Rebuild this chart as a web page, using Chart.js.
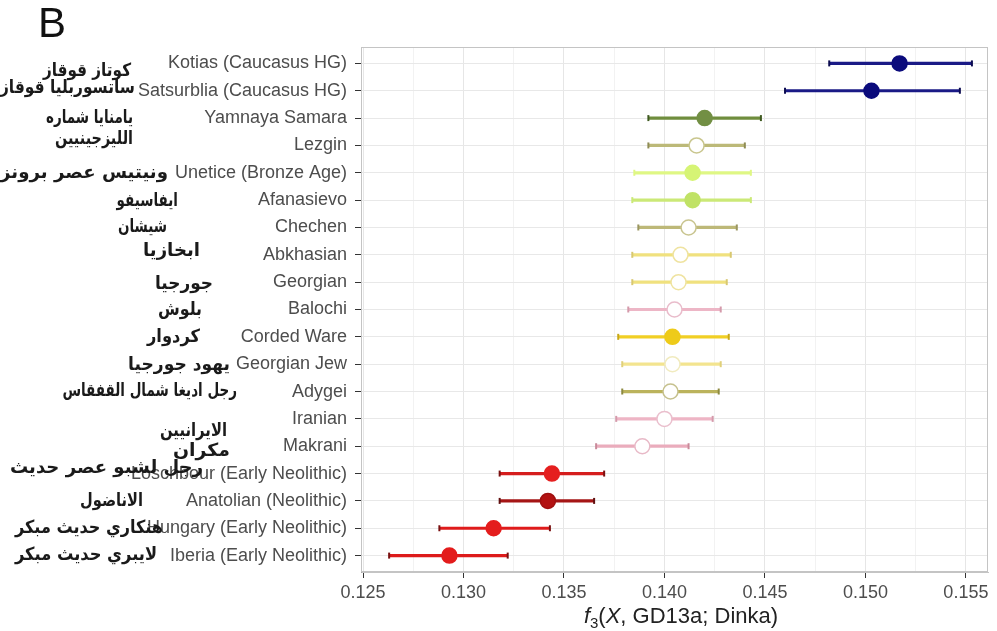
<!DOCTYPE html>
<html>
<head>
<meta charset="utf-8">
<script src="https://cdn.jsdelivr.net/npm/chart.js@4/dist/chart.umd.min.js"></script>
<style>
html,body{margin:0;padding:0;background:#fff;}
#wrap{position:relative;width:997px;height:631px;}
</style>
</head>
<body>
<div id="wrap"><canvas id="c" width="997" height="631"></canvas></div>
<script>
// ---- data ----
const categories = ['Kotias (Caucasus HG)', 'Satsurblia (Caucasus HG)', 'Yamnaya Samara', 'Lezgin',
  'Unetice (Bronze Age)', 'Afanasievo', 'Chechen', 'Abkhasian', 'Georgian', 'Balochi', 'Corded Ware',
  'Georgian Jew', 'Adygei', 'Iranian', 'Makrani', 'Loschbour (Early Neolithic)', 'Anatolian (Neolithic)',
  'Hungary (Early Neolithic)', 'Iberia (Early Neolithic)'];
const arabicLabels = ['كوتاز قوقاز', 'ساتسوربليا قوقاز', 'يامنايا شماره', 'الليزجينيين',
  'ونيتيس عصر برونز', 'ايفاسيفو', 'شيشان', 'ابخازيا', 'جورجيا', 'بلوش', 'كردوار',
  'يهود جورجيا', 'رجل اديغا شمال القفقاس', 'الايرانيين', 'مكران', 'رجل لشبو عصر حديث',
  'الاناضول', 'هنكاري حديث مبكر', 'لايبري حديث مبكر'];
const f3Values = [0.1517, 0.1503, 0.1420, 0.1416, 0.1414, 0.1414, 0.1412, 0.1408, 0.1407, 0.1405,
  0.1404, 0.1404, 0.1403, 0.1400, 0.1389, 0.1344, 0.1342, 0.1315, 0.1293];
const lowerCI = [0.1482, 0.1460, 0.1392, 0.1392, 0.1385, 0.1384, 0.1387, 0.1384, 0.1384, 0.1382,
  0.1377, 0.1379, 0.1379, 0.1376, 0.1366, 0.1318, 0.1318, 0.1288, 0.1263];
const upperCI = [0.1553, 0.1547, 0.1448, 0.1440, 0.1443, 0.1443, 0.1436, 0.1433, 0.1431, 0.1428,
  0.1432, 0.1428, 0.1427, 0.1424, 0.1412, 0.1370, 0.1365, 0.1343, 0.1322];
const xTickValues = [0.125, 0.1275, 0.130, 0.1325, 0.135, 0.1375, 0.140, 0.1425, 0.145, 0.1475, 0.150, 0.1525, 0.155];

// ---- styles ----
const barColor = ['#1a1a86','#1a1a86','#6f8d3d','#bcb978','#dff784','#cbe977','#bdb878','#f0e17e','#f0e17e','#edb6c6',
  '#f1cf25','#f3e48f','#bbb35c','#eeb5c5','#eaacbc','#d51d1d','#a51515','#df1b1b','#dd1b1b'];
const capColor = ['#0b0b50','#0b0b50','#3f5a20','#8f8c55','#dff784','#cbe977','#9a9660','#d8c870','#d8c870','#d49aab',
  '#c8a818','#e0d07a','#8d8a40','#d49aab','#c98a9a','#7a1010','#601010','#7a1010','#7a1010'];
const pointFill = ['#0b0b7c','#0b0b7c','#728f44','#ffffff','#d6f475','#c0e266','#ffffff','#ffffff','#ffffff','#ffffff',
  '#eecb1a','#ffffff','#ffffff','#ffffff','#ffffff','#e51f1f','#b31212','#e41d1d','#e31c1c'];
const pointEdge = ['#0b0b7c','#0b0b7c','#728f44','#c9c68e','#d6f475','#c0e266','#c9c590','#efe3a0','#efe3a0','#e9bccb',
  '#eecb1a','#f1ebbf','#c6c18e','#eabfcd','#e8b9c7','#e51f1f','#a01010','#e41d1d','#e31c1c'];
// Arabic overlay placement: left/right edges in x and vertical offset from its row
const arabicLeft = [43, 0, 47, 55, 0, 128, 128, 143, 155, 158, 147, 128, 83, 160, 173, 10, 80, 15, 15];
const arabicRight = [131, 135, 133, 133, 168, 178, 167, 200, 213, 202, 200, 230, 237, 227, 230, 203, 143, 163, 157];
const arabicDy = [8, -2, 0, -6, 1, 1, 0, -3, 2, 1, 0, 1, 0, 12, 5, -5, 0, 0, 0];

const isMajor = v => Math.abs(Math.round(v * 10000) % 50) === 0;

const datasets = [{
  label: 'f3',
  order: 0,
  data: f3Values.map((v, i) => ({x: v, y: i + 1})),
  pointRadius: 7.5,
  pointHoverRadius: 7.5,
  pointBorderWidth: 1.5,
  pointBackgroundColor: pointFill,
  pointBorderColor: pointEdge,
  showLine: false
}];
categories.forEach((c, i) => {
  datasets.push({
    label: c,
    order: 1,
    data: [{x: lowerCI[i], y: i + 1}, {x: upperCI[i], y: i + 1}],
    showLine: true,
    borderColor: barColor[i],
    borderWidth: 3.2,
    pointStyle: 'line',
    pointRotation: 90,
    pointRadius: 3,
    pointHoverRadius: 3,
    pointBorderWidth: 2,
    pointBorderColor: capColor[i],
    pointBackgroundColor: capColor[i]
  });
});

const overlay = {
  id: 'overlay',
  afterDraw(chart) {
    const ctx = chart.ctx, a = chart.chartArea, ys = chart.scales.y;
    ctx.save();
    ctx.strokeStyle = '#c4c4c4';
    ctx.lineWidth = 1;
    ctx.strokeRect(a.left + 0.5, a.top + 0.5, a.right - a.left - 1, a.bottom - a.top - 1);
    // panel letter
    ctx.fillStyle = '#111';
    ctx.font = '42px "Liberation Sans", Arial, sans-serif';
    ctx.textAlign = 'left';
    ctx.textBaseline = 'alphabetic';
    ctx.fillText('B', 38, 37);
    // Arabic labels, fitted (within limits) to their span
    ctx.fillStyle = '#1a1a1a';
    ctx.font = 'bold 18px "DejaVu Sans", sans-serif';
    ctx.textAlign = 'right';
    ctx.textBaseline = 'middle';
    ctx.direction = 'rtl';
    arabicLabels.forEach((t, i) => {
      const y = ys.getPixelForValue(i + 1) + arabicDy[i];
      const w = ctx.measureText(t).width;
      const target = arabicRight[i] - arabicLeft[i];
      const k = Math.max(0.75, Math.min(1.15, target / w));
      ctx.save();
      ctx.translate(arabicRight[i], y);
      ctx.scale(k, 1);
      ctx.fillText(t, 0, 0);
      ctx.restore();
    });
    ctx.direction = 'ltr';
    // x axis title: f3(X, GD13a; Dinka)
    const parts = [
      {t: 'f', f: 'italic 22px "Liberation Sans", Arial, sans-serif', dy: 0},
      {t: '3', f: '15px "Liberation Sans", Arial, sans-serif', dy: 5},
      {t: '(', f: '22px "Liberation Sans", Arial, sans-serif', dy: 0},
      {t: 'X', f: 'italic 22px "Liberation Sans", Arial, sans-serif', dy: 0},
      {t: ', GD13a; Dinka)', f: '22px "Liberation Sans", Arial, sans-serif', dy: 0}
    ];
    let total = 0;
    parts.forEach(p => { ctx.font = p.f; p.w = ctx.measureText(p.t).width; total += p.w; });
    let x = 681 - total / 2;
    const base = 623;
    ctx.fillStyle = '#222';
    ctx.textAlign = 'left';
    ctx.textBaseline = 'alphabetic';
    parts.forEach(p => { ctx.font = p.f; ctx.fillText(p.t, x, base + p.dy); x += p.w; });
    ctx.restore();
  }
};

new Chart(document.getElementById('c'), {
  type: 'scatter',
  data: {datasets},
  options: {
    responsive: false,
    animation: false,
    events: [],
    layout: {padding: {top: 47, right: 7, left: 0, bottom: 0}},
    plugins: {legend: {display: false}, tooltip: {enabled: false}},
    scales: {
      x: {
        type: 'linear',
        min: 0.1249,
        max: 0.1561,
        afterBuildTicks: s => { s.ticks = xTickValues.map(v => ({value: v})); },
        afterFit: s => { s.height = 59; },
        border: {display: true, color: '#c4c4c4'},
        grid: {
          color: c => (c.tick && isMajor(c.tick.value)) ? '#e6e6e6' : '#f2f2f2',
          tickColor: c => (c.tick && isMajor(c.tick.value)) ? '#333' : 'rgba(0,0,0,0)',
          tickLength: 6,
          lineWidth: 1
        },
        ticks: {
          autoSkip: false,
          maxRotation: 0,
          padding: 4,
          color: '#4d4d4d',
          font: {family: '"Liberation Sans", Arial, sans-serif', size: 18},
          callback: v => isMajor(v) ? v.toFixed(3) : ''
        }
      },
      y: {
        type: 'linear',
        reverse: true,
        min: 0.4,
        max: 19.6,
        afterBuildTicks: s => { s.ticks = categories.map((c, i) => ({value: i + 1})); },
        afterFit: s => { s.width = 361; },
        border: {display: true, color: '#a8a8a8'},
        grid: {color: '#e8e8e8', tickColor: '#333', tickLength: 6, lineWidth: 1},
        ticks: {
          autoSkip: false,
          padding: 8,
          color: '#4d4d4d',
          font: {family: '"Liberation Sans", Arial, sans-serif', size: 18},
          callback: v => categories[Math.round(v) - 1]
        }
      }
    }
  },
  plugins: [overlay]
});
</script>
</body>
</html>
